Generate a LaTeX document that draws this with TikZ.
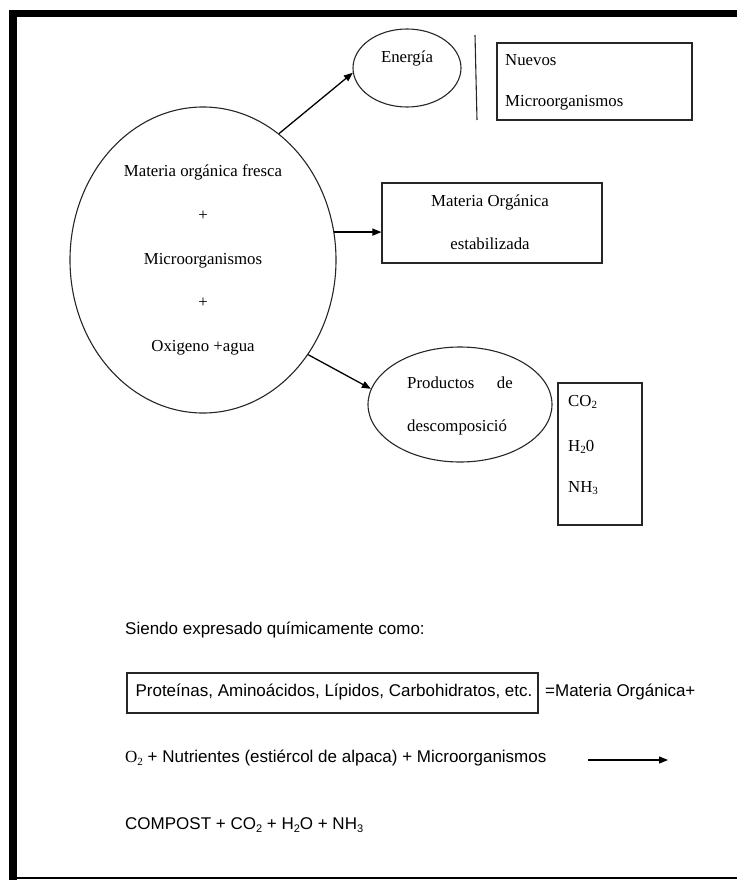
\documentclass[tikz,border=0pt]{standalone}
\usepackage{fontspec}
\setmainfont{Liberation Serif}
\newfontfamily\arial{Liberation Sans}
\usetikzlibrary{shapes.geometric,arrows.meta}
\newcommand\subs[1]{\raisebox{-0.35ex}{\fontsize{11}{11}\selectfont #1}}
\begin{document}
\begin{tikzpicture}[x=1pt,y=-1pt,
  line/.style={draw=black!85, line width=1.1pt},
  arr/.style={draw=black, line width=1.3pt, -{Triangle[length=9pt,width=7pt]}},
  serif/.style={font=\fontsize{16.8}{20}\selectfont, inner sep=0},
  sans/.style={font=\arial\fontsize{17}{20}\selectfont, inner sep=0},
  oval/.style={ellipse, line, inner sep=0},
  boxed/.style={line, inner sep=0}
]
\useasboundingbox (0,0) rectangle (737,880);
% frame
\fill (9,10) rectangle (737,17);
\fill (9,10) rectangle (17,880);
\fill (9,877) rectangle (737,879);

% main ellipse
\node[oval, minimum width=266pt, minimum height=306pt, align=center,
      font=\fontsize{16.8}{43.8}\selectfont] (big) at (203,260)
  {Materia orgánica fresca\\+\\Microorganismos\\+\\Oxigeno +agua};

% energy
\node[oval, minimum width=108pt, minimum height=78pt] (energia) at (407,68) {};
\node[serif] (energiat) at ([yshift=10pt]energia.center) {Energía};
\coordinate (v1) at (475,35);
\coordinate (v2) at (477,120);
\draw[line] (v1) -- (v2);
\node[boxed, minimum width=195pt, minimum height=77pt] (nuevos) at (594.5,81.5) {};
\node[serif, anchor=west] (nuevos1) at (505,60) {Nuevos};
\node[serif, anchor=west] (nuevos2) at (505,103) {Microorganismos};

% stabilised organic matter
\node[boxed, minimum width=220pt, minimum height=80pt] (moe) at (492,223) {};
\node[serif] (moe1) at (490,202) {Materia Orgánica};
\node[serif] (moe2) at (490,244) {estabilizada};

% decomposition products
\node[oval, minimum width=184pt, minimum height=115pt] (prod) at (460,404.5) {};
\node[serif, anchor=west] (prod1) at (407,383) {Productos};
\node[serif, anchor=east] (prod2) at (513,383) {de};
\node[serif, anchor=west] (prod3) at (407,427) {descomposició};

\node[boxed, minimum width=84pt, minimum height=142pt] (gas) at (600,454) {};
\node[serif, anchor=west] (g1) at (568,402) {CO\subs{2}};
\node[serif, anchor=west] (g2) at (568,447) {H\subs{2}0};
\node[serif, anchor=west] (g3) at (568,488) {NH\subs{3}};

% arrows
\draw[arr] (big.59) -- (energia.185);
\draw[arr] (big.12) -- (big.12 -| moe.west);
\draw[arr] (big.-42) -- (prod.170);

% chemical expression
\node[sans, anchor=west] (siendo) at (125,630) {Siendo expresado químicamente como:};
\node[boxed, minimum width=411pt, minimum height=40pt] (prot) at (332.5,693) {};
\node[sans] (prott) at (334,692) {Proteínas, Aminoácidos, Lípidos, Carbohidratos, etc.};
\node[sans, anchor=west] (mo) at (545,692) {=Materia Orgánica+};
\node[sans, anchor=west] (o2) at (125,758) {{\rmfamily O\subs{2}} + Nutrientes (estiércol de alpaca) + Microorganismos};
\coordinate (a1) at (588,760);
\coordinate (a2) at (668,760);
\draw[arr] (a1) -- (a2);
\node[sans, anchor=west] (compost) at (125,825) {COMPOST + CO\subs{2} + H\subs{2}O + NH\subs{3}};
\end{tikzpicture}
\end{document}
